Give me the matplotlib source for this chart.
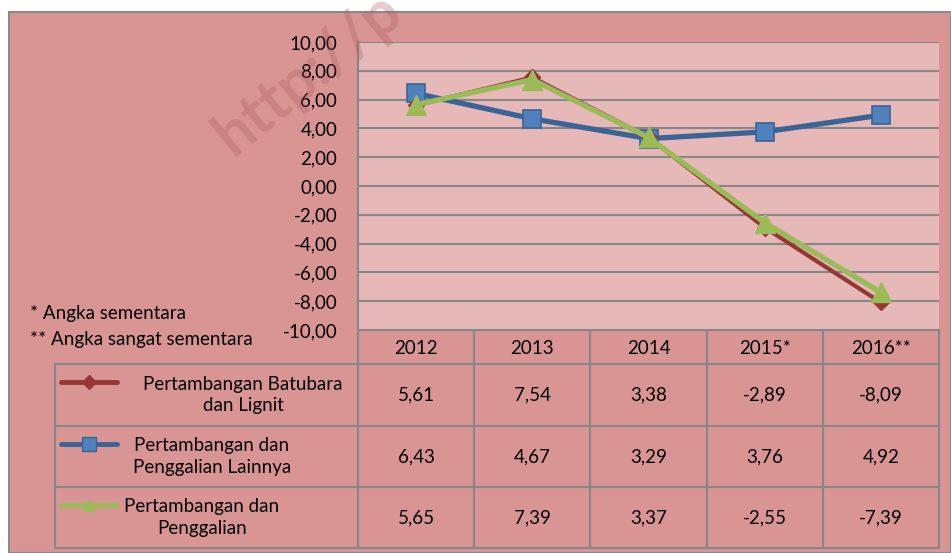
import matplotlib.pyplot as plt
from matplotlib.patches import Rectangle
import numpy as np

plt.rcParams['font.family'] = ['Lato', 'DejaVu Sans']

years = ['2012', '2013', '2014', '2015*', '2016**']
batubara = [5.61, 7.54, 3.38, -2.89, -8.09]
lainnya = [6.43, 4.67, 3.29, 3.76, 4.92]
penggalian = [5.65, 7.39, 3.37, -2.55, -7.39]
series_names = ['Pertambangan Batubara\ndan Lignit',
                'Pertambangan dan\nPenggalian Lainnya',
                'Pertambangan dan\nPenggalian']
notes = ['* Angka sementara', '** Angka sangat sementara']

W, H = 951, 553
BG = '#d99594'
PLOT_BG = '#e6b9b8'
GRID = '#878787'
RED = '#953735'
BLUE = '#4f81bd'
BLUE_LINE = '#3a6496'
GREEN = '#9bbb59'
FS = 13.5

# layout in pixels
px_left, px_right, px_top, px_bottom = 358, 939, 42, 330
row_edges = [330, 364, 426, 487, 548]
col_edges = np.linspace(px_left, px_right, len(years) + 1)
leg_left = 55

fig = plt.figure(figsize=(W / 100, H / 100), dpi=100)

# background / table axes in pixel coords
bg = fig.add_axes([0, 0, 1, 1], zorder=0)
bg.set_xlim(0, W)
bg.set_ylim(H, 0)
bg.axis('off')
bg.add_patch(Rectangle((9, 12), W - 9, H - 12, facecolor=BG, edgecolor='#8a8a8a', lw=1.5))

# main chart
ax = fig.add_axes([px_left / W, 1 - px_bottom / H, (px_right - px_left) / W, (px_bottom - px_top) / H], zorder=1)
ax.set_facecolor(PLOT_BG)
x = np.arange(len(years)) + 0.5
ax.plot(x, batubara, color=RED, lw=3, marker='D', ms=8, mfc=RED, mec=RED, zorder=3)
ax.plot(x, lainnya, color=BLUE_LINE, lw=3.8, marker='s', ms=13, mfc=BLUE, mec=BLUE_LINE, mew=1.2, zorder=2)
ax.plot(x, penggalian, color=GREEN, lw=3.8, marker='^', ms=15, mfc=GREEN, mec=GREEN, zorder=4)
ax.set_xlim(0, len(years))
ax.set_ylim(-10, 10)
ax.set_yticks(np.arange(-10, 11, 2))
ax.set_yticklabels([('%.2f' % v).replace('.', ',') for v in np.arange(-10, 11, 2)], fontsize=FS)
ax.set_xticks([])
ax.tick_params(axis='y', length=0, pad=15)
ax.grid(axis='y', color=GRID, lw=1.5)
ax.set_axisbelow(True)
for s in ['right', 'bottom', 'top']:
    ax.spines[s].set_visible(False)
ax.spines['left'].set_color(GRID)
ax.spines['left'].set_linewidth(1.5)

# data table
lc = dict(color=GRID, lw=1.5, zorder=2)
bg.plot([px_left, px_right], [row_edges[0], row_edges[0]], **lc)
for yy in row_edges[1:]:
    bg.plot([leg_left, px_right], [yy, yy], **lc)
for xx in col_edges:
    bg.plot([xx, xx], [row_edges[0], row_edges[-1]], **lc)
bg.plot([leg_left, leg_left], [row_edges[1], row_edges[-1]], **lc)

for i, yr in enumerate(years):
    cx = (col_edges[i] + col_edges[i + 1]) / 2
    bg.text(cx, (row_edges[0] + row_edges[1]) / 2 + 1, yr, ha='center', va='center', fontsize=FS)

styles = [(RED, RED, 'D', 7), (BLUE_LINE, BLUE, 's', 10), (GREEN, GREEN, '^', 9)]
name_x = [243, 212, 202]
for r, vals in enumerate([batubara, lainnya, penggalian]):
    ymid = (row_edges[r + 1] + row_edges[r + 2]) / 2
    for i, v in enumerate(vals):
        cx = (col_edges[i] + col_edges[i + 1]) / 2
        bg.text(cx, ymid, ('%.2f' % v).replace('.', ','), ha='center', va='center', fontsize=FS)
    lcol, mcol, mk, ms = styles[r]
    ky = row_edges[r + 1] + 18
    bg.plot([61, 117], [ky, ky], color=lcol, lw=3.5, solid_capstyle='round', zorder=3)
    bg.plot([89], [ky], marker=mk, ms=ms, color=mcol, mec=lcol, zorder=4)
    bg.text(name_x[r], ymid, series_names[r], ha='center', va='center', fontsize=FS, linespacing=1.3)

bg.text(30, 313, notes[0], ha='left', va='center', fontsize=FS)
bg.text(30, 339, notes[1], ha='left', va='center', fontsize=FS)

# faint watermark
fig.text(0.215, 0.72, 'http://p', rotation=39, fontsize=44, fontweight='bold', color='#a85858', alpha=0.3, zorder=10)

fig.savefig('out.png', dpi=100)
